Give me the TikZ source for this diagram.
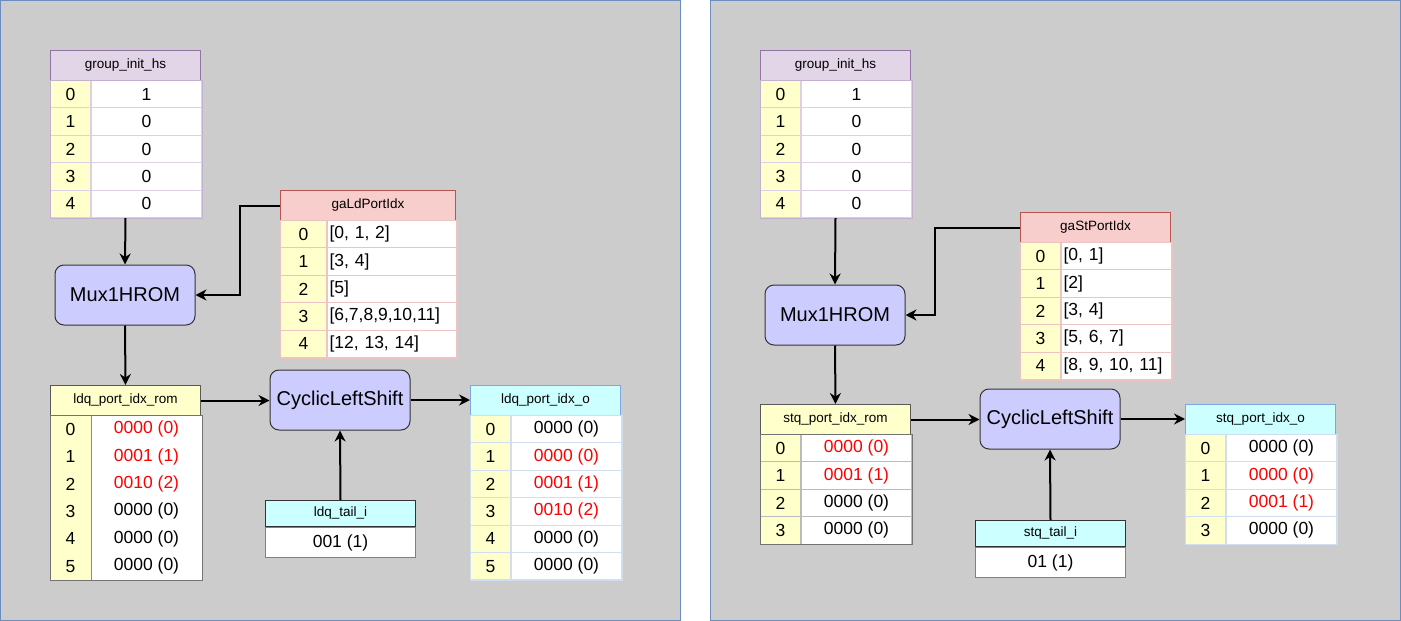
\documentclass[tikz,border=0pt]{standalone}
\usepackage{fontspec}
\setmainfont{Liberation Sans}
\usetikzlibrary{arrows.meta}
\definecolor{panelfill}{HTML}{CCCCCC}
\definecolor{panelline}{HTML}{6C8EBF}
\definecolor{purpH}{HTML}{E1D5E7}
\definecolor{purpD}{HTML}{9673A6}
\definecolor{purpM}{HTML}{C3B1CF}
\definecolor{purpL}{HTML}{DDD0E5}
\definecolor{pinkH}{HTML}{F8CECC}
\definecolor{pinkD}{HTML}{B85450}
\definecolor{pinkL}{HTML}{EBC4C3}
\definecolor{yel}{HTML}{FFFFCC}
\definecolor{cyanH}{HTML}{CCFFFF}
\definecolor{blueD}{HTML}{7EA6E0}
\definecolor{blueL}{HTML}{D0DEF0}
\definecolor{grayL}{HTML}{BBBBBB}
\definecolor{boxfill}{HTML}{CCCCFF}
\definecolor{redt}{HTML}{FF0000}
\newcommand\Rv[1]{\textcolor{redt}{#1}}
\tikzset{
  cellline/.style={},
  hdr/.style={draw, inner sep=0, minimum height=30, minimum width=150, anchor=north west, line width=1, font=\fontsize{13.5}{15}\selectfont},
  cell/.style={cellline, line width=1, inner sep=0, minimum height=27.4, anchor=north west, font=\fontsize{17.5}{21}\selectfont},
  idx/.style={cell, fill=yel, minimum width=40},
  val/.style={cell, fill=white, minimum width=110},
  valL/.style={cell, fill=white, inner xsep=2, text width=106, align=left},
  box/.style={draw=black!80, fill=boxfill, rounded corners=9, minimum width=140, minimum height=60, inner sep=0, line width=1, font=\fontsize{20}{24}\selectfont},
  arr/.style={-{Stealth[length=11,width=11]}, line width=2, black},
}
% #1 name, #2 x, #3 y, #4 index, #5 value
\newcommand\Row[5]{%
  \node[idx] (#1i) at (#2,#3) {#4};
  \node[val] (#1v) at (#1i.north east) {#5};}
\newcommand\RowL[5]{%
  \node[idx] (#1i) at (#2,#3) {#4};
  \node[valL] (#1v) at (#1i.north east) {#5};}
\begin{document}
\begin{tikzpicture}[x=1pt,y=-1pt]
\useasboundingbox (0,0) rectangle (1401,621);
% panels
\draw[fill=panelfill, draw=panelline, line width=1] (0.5,0.5) rectangle (680,620);
\draw[fill=panelfill, draw=panelline, line width=1] (710,0.5) rectangle (1400.5,620);

% ================= LEFT PANEL =================
% group_init_hs
\node[hdr, fill=purpH, draw=purpD] (gih) at (50,50) {group\_init\_hs};
\begin{scope}[cellline/.style={draw=purpL}]
\Row{ga0}{50}{80}{0}{1}
\Row{ga1}{50}{107.4}{1}{0}
\Row{ga2}{50}{134.8}{2}{0}
\Row{ga3}{50}{162.2}{3}{0}
\Row{ga4}{50}{189.6}{4}{0}
\end{scope}
\draw[purpM, line width=1] (ga0i.north west) rectangle (ga4v.south east);

% gaLdPortIdx
\node[hdr, fill=pinkH, draw=pinkD, minimum width=175] (gal) at (280,190) {gaLdPortIdx};
\begin{scope}[cellline/.style={draw=pinkL}, idx/.append style={minimum width=46}, valL/.append style={text width=125}]
\RowL{la0}{280}{220}{0}{[0, 1, 2]}
\RowL{la1}{280}{247.4}{1}{[3, 4]}
\RowL{la2}{280}{274.8}{2}{[5]}
\RowL{la3}{280}{302.2}{3}{[6,7,8,9,10,11]}
\RowL{la4}{280}{329.6}{4}{[12, 13, 14]}
\end{scope}
\draw[pinkL, line width=1] (la0i.north west) rectangle (la4v.south east);

% Mux1HROM
\node[box] (mux1) at (125,295) {Mux1HROM};

% ldq_port_idx_rom
\node[hdr, fill=yel, draw=black!65] (rom1) at (50,385) {ldq\_port\_idx\_rom};
\Row{ra0}{50}{415}{0}{\Rv{0000 (0)}}
\Row{ra1}{50}{442.4}{1}{\Rv{0001 (1)}}
\Row{ra2}{50}{469.8}{2}{\Rv{0010 (2)}}
\Row{ra3}{50}{497.2}{3}{0000 (0)}
\Row{ra4}{50}{524.6}{4}{0000 (0)}
\Row{ra5}{50}{552}{5}{0000 (0)}
\draw[black!45, line width=1] (ra0i.north east) -- (ra5i.south east);
\draw[black!55, line width=1] (ra0i.north west) rectangle (ra5v.south east);

% CyclicLeftShift
\node[box] (cls1) at (340,400) {CyclicLeftShift};

% ldq_port_idx_o
\node[hdr, fill=cyanH, draw=blueD] (o1) at (470,385) {ldq\_port\_idx\_o};
\begin{scope}[cellline/.style={draw=blueL}]
\Row{oa0}{470}{415}{0}{0000 (0)}
\Row{oa1}{470}{442.4}{1}{\Rv{0000 (0)}}
\Row{oa2}{470}{469.8}{2}{\Rv{0001 (1)}}
\Row{oa3}{470}{497.2}{3}{\Rv{0010 (2)}}
\Row{oa4}{470}{524.6}{4}{0000 (0)}
\Row{oa5}{470}{552}{5}{0000 (0)}
\end{scope}
\draw[blueL, line width=1] (oa0i.north west) rectangle (oa5v.south east);

% ldq_tail_i
\node[hdr, fill=cyanH, draw=black!80, minimum height=26] (tail1) at (265,500) {ldq\_tail\_i};
\node[cell, fill=white, draw=black!50, minimum width=150, minimum height=30] (tv1) at (tail1.south west) {001 (1)};

% connectors left
\draw[arr] (gih.center |- ga4v.south) -- (mux1.north);
\draw[arr] (gal.west) -- ++(-40,0) |- (mux1.east);
\draw[arr] (mux1.south) -- (rom1.north);
\draw[arr] (rom1.east) -- (rom1.east -| cls1.west);
\draw[arr] (cls1.east) -- (cls1.east -| o1.west);
\draw[arr] (tail1.north) -- (cls1.south);

% ================= RIGHT PANEL =================
\node[hdr, fill=purpH, draw=purpD] (gih2) at (760,50) {group\_init\_hs};
\begin{scope}[cellline/.style={draw=purpL}]
\Row{gb0}{760}{80}{0}{1}
\Row{gb1}{760}{107.4}{1}{0}
\Row{gb2}{760}{134.8}{2}{0}
\Row{gb3}{760}{162.2}{3}{0}
\Row{gb4}{760}{189.6}{4}{0}
\end{scope}
\draw[purpM, line width=1] (gb0i.north west) rectangle (gb4v.south east);

% gaStPortIdx
\node[hdr, fill=pinkH, draw=pinkD] (gas) at (1020,212) {gaStPortIdx};
\begin{scope}[cellline/.style={draw=pinkL}]
\RowL{sa0}{1020}{242}{0}{[0, 1]}
\RowL{sa1}{1020}{269.4}{1}{[2]}
\RowL{sa2}{1020}{296.8}{2}{[3, 4]}
\RowL{sa3}{1020}{324.2}{3}{[5, 6, 7]}
\RowL{sa4}{1020}{351.6}{4}{[8, 9, 10, 11]}
\end{scope}
\draw[pinkL, line width=1] (sa0i.north west) rectangle (sa4v.south east);

\node[box] (mux2) at (835,315) {Mux1HROM};

% stq_port_idx_rom
\node[hdr, fill=yel, draw=black!65] (rom2) at (760,404) {stq\_port\_idx\_rom};
\begin{scope}[cellline/.style={draw=grayL}]
\Row{rb0}{760}{434}{0}{\Rv{0000 (0)}}
\Row{rb1}{760}{461.4}{1}{\Rv{0001 (1)}}
\Row{rb2}{760}{488.8}{2}{0000 (0)}
\Row{rb3}{760}{516.2}{3}{0000 (0)}
\end{scope}
\draw[black!55, line width=1] (rb0i.north west) rectangle (rb3v.south east);

\node[box] (cls2) at (1050,419) {CyclicLeftShift};

% stq_port_idx_o
\node[hdr, fill=cyanH, draw=blueD] (o2) at (1185,404) {stq\_port\_idx\_o};
\begin{scope}[cellline/.style={draw=blueL}]
\Row{ob0}{1185}{434}{0}{0000 (0)}
\Row{ob1}{1185}{461.4}{1}{\Rv{0000 (0)}}
\Row{ob2}{1185}{488.8}{2}{\Rv{0001 (1)}}
\Row{ob3}{1185}{516.2}{3}{0000 (0)}
\end{scope}
\draw[blueL, line width=1] (ob0i.north west) rectangle (ob3v.south east);

% stq_tail_i
\node[hdr, fill=cyanH, draw=black!80, minimum height=26] (tail2) at (975,520) {stq\_tail\_i};
\node[cell, fill=white, draw=black!50, minimum width=150, minimum height=30] (tv2) at (tail2.south west) {01 (1)};

% connectors right
\draw[arr] (gih2.center |- gb4v.south) -- (mux2.north);
\draw[arr] (gas.west) -- ++(-85,0) |- (mux2.east);
\draw[arr] (mux2.south) -- (rom2.north);
\draw[arr] (rom2.east) -- (rom2.east -| cls2.west);
\draw[arr] (cls2.east) -- (cls2.east -| o2.west);
\draw[arr] (tail2.north) -- (cls2.south);
\end{tikzpicture}
\end{document}
